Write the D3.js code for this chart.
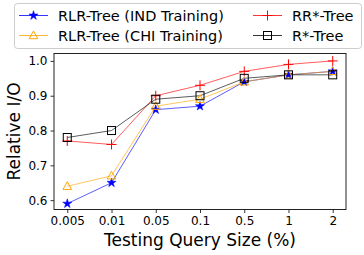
<!DOCTYPE html>
<html>
<head>
<meta charset="utf-8">
<script src="https://cdn.jsdelivr.net/npm/d3@7"></script>
<style>
  body { margin: 0; background: #fff; }
  text { font-family: "DejaVu Sans", sans-serif; fill: #000; }
</style>
</head>
<body>
<div id="chart"></div>
<script>
// query sizes on the x axis
var sizes = ["0.005", "0.01", "0.05", "0.1", "0.5", "1", "2"];
var yTicks = [0.6, 0.7, 0.8, 0.9, 1.0];

// relative I/O per method
var rlrInd = [0.59, 0.65, 0.86, 0.87, 0.94, 0.96, 0.97];
var rlrChi = [0.64, 0.67, 0.87, 0.89, 0.94, 0.96, 0.97];
var rrStar = [0.77, 0.76, 0.90, 0.93, 0.97, 0.99, 1.00];
var rStar  = [0.78, 0.80, 0.89, 0.90, 0.95, 0.96, 0.96];

var series = [
    { name: "RLR-Tree (IND Training)", values: rlrInd, color: "blue", marker: "star" },
    { name: "RLR-Tree (CHI Training)", values: rlrChi, color: "orange", marker: "triangle" },
    { name: "RR*-Tree", values: rrStar, color: "red", marker: "plus" },
    { name: "R*-Tree", values: rStar, color: "black", marker: "square" }
];

var W = 364, H = 255;
var margin = { top: 53.5, right: 18, bottom: 45.5, left: 54 };
var width = W - margin.left - margin.right,
    height = H - margin.top - margin.bottom;

var svg = d3.select("#chart").append("svg")
    .attr("width", W)
    .attr("height", H);

var g = svg.append("g")
    .attr("transform", "translate(" + margin.left + "," + margin.top + ")");

// matplotlib style 5% padding on a categorical index
var x = d3.scaleLinear().domain([-0.3, 6.3]).range([0, width]);
var y = d3.scaleLinear().domain([0.5732, 1.0213]).range([height, 0]);

// axes
var xAxis = d3.axisBottom(x).tickValues(d3.range(sizes.length))
    .tickFormat(function (i) { return sizes[i]; })
    .tickSize(3.5).tickPadding(3);
var yAxis = d3.axisLeft(y).tickValues(yTicks)
    .tickFormat(d3.format(".1f"))
    .tickSize(3.5).tickPadding(3);

var gx = g.append("g").attr("transform", "translate(0," + height + ")").call(xAxis);
var gy = g.append("g").call(yAxis);
[gx, gy].forEach(function (a) {
    a.select(".domain").remove();
    a.selectAll("text").style("font-size", "12px").style("font-family", "DejaVu Sans");
    a.selectAll("line").attr("stroke", "#000").attr("stroke-width", 0.8);
});

g.append("rect")
    .attr("width", width).attr("height", height)
    .attr("fill", "none").attr("stroke", "#222").attr("stroke-width", 1);

// lines
var line = d3.line()
    .x(function (d, i) { return x(i); })
    .y(function (d) { return y(d); });

series.forEach(function (s) {
    g.append("path")
        .datum(s.values)
        .attr("d", line)
        .attr("fill", "none")
        .attr("stroke", s.color)
        .attr("stroke-opacity", 0.8)
        .attr("stroke-width", 0.8);
});

function drawMarker(sel, type, color) {
    if (type === "star") {
        sel.append("path")
            .attr("d", d3.symbol().type(d3.symbolStar).size(26))
            .attr("fill", color).attr("stroke", color).attr("stroke-width", 0.5);
    } else if (type === "triangle") {
        sel.append("path")
            .attr("d", "M0,-4.5L4.3,3.2L-4.3,3.2Z")
            .attr("fill", "none").attr("stroke", color).attr("stroke-width", 1);
    } else if (type === "plus") {
        sel.append("path")
            .attr("d", "M-5,0H5M0,-5V5")
            .attr("fill", "none").attr("stroke", color).attr("stroke-width", 1);
    } else {
        sel.append("rect")
            .attr("x", -4).attr("y", -4).attr("width", 8).attr("height", 8)
            .attr("fill", "none").attr("stroke", color).attr("stroke-width", 1);
    }
}

series.forEach(function (s) {
    s.values.forEach(function (v, i) {
        var m = g.append("g").attr("transform", "translate(" + x(i) + "," + y(v) + ")");
        drawMarker(m, s.marker, s.color);
    });
});

// axis labels
svg.append("text")
    .attr("x", margin.left + width / 2).attr("y", 246)
    .attr("text-anchor", "middle")
    .style("font-size", "17px")
    .text("Testing Query Size (%)");

svg.append("text")
    .attr("transform", "translate(20," + (margin.top + height / 2) + ") rotate(-90)")
    .attr("text-anchor", "middle")
    .style("font-size", "17px")
    .text("Relative I/O");

// legend
var leg = svg.append("g");
leg.append("rect")
    .attr("x", 14.5).attr("y", 3.5).attr("width", 347).attr("height", 45)
    .attr("rx", 3)
    .attr("fill", "#fff").attr("fill-opacity", 0.8)
    .attr("stroke", "#ccc").attr("stroke-width", 1);

var legPos = [[19, 15.5], [19, 35.5], [253, 15.5], [253, 35.5]];
series.forEach(function (s, i) {
    var p = legPos[i];
    var item = leg.append("g").attr("transform", "translate(" + p[0] + "," + p[1] + ")");
    item.append("line").attr("x1", 0).attr("x2", 29)
        .attr("stroke", s.color).attr("stroke-width", 0.8);
    drawMarker(item.append("g").attr("transform", "translate(14.5,0)"), s.marker, s.color);
    item.append("text")
        .attr("x", 39).attr("y", 0).attr("dy", "0.36em")
        .style("font-size", "14.5px")
        .text(s.name);
});
</script>
</body>
</html>
